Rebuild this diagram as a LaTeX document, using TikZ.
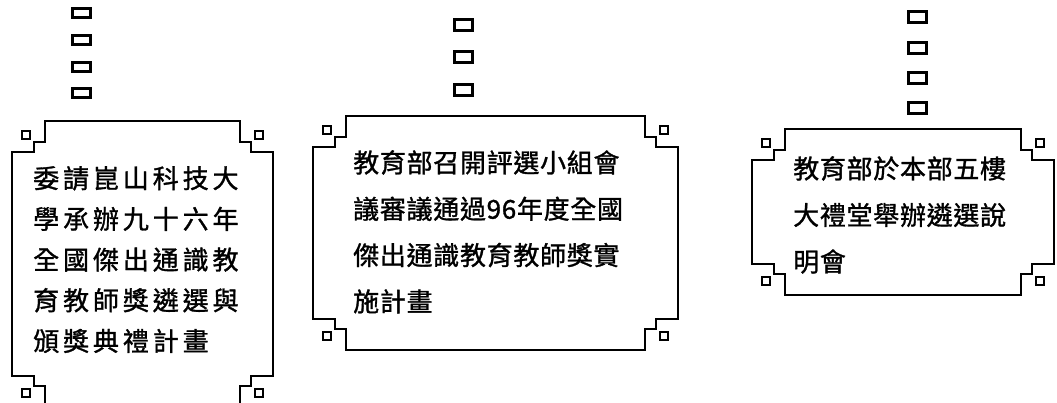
\documentclass[tikz,border=0pt]{standalone}
\usepackage{fontspec}
\newfontfamily\cjkwide[LetterSpace=15, FakeBold=1.2]{Noto Sans CJK TC}
\newfontfamily\cjk[LetterSpace=2.7, FakeBold=1.2]{Noto Sans CJK TC}
\tikzset{
	frame/.style={line width=2.5pt, line join=miter},
	knob/.style={line width=2.5pt},
	link/.style={draw, line width=3pt, inner sep=0pt, minimum width=18pt, minimum height=9pt},
	notice/.style={anchor=north west, align=left, inner sep=0pt}
}
% #1 left, #2 top, #3 right, #4 bottom
\newcommand{\plaque}[4]{%
	\draw[frame] ({#1+33},#2) -- ({#3-33},#2) -- ({#3-33},{#2+21}) -- ({#3-22},{#2+21})
		-- ({#3-22},{#2+31}) -- (#3,{#2+31}) -- (#3,{#4-31}) -- ({#3-22},{#4-31})
		-- ({#3-22},{#4-21}) -- ({#3-33},{#4-21}) -- ({#3-33},#4) -- ({#1+33},#4)
		-- ({#1+33},{#4-21}) -- ({#1+22},{#4-21}) -- ({#1+22},{#4-31}) -- (#1,{#4-31})
		-- (#1,{#2+31}) -- ({#1+22},{#2+31}) -- ({#1+22},{#2+21}) -- ({#1+33},{#2+21}) -- cycle;
	\draw[knob] ({#1+10},{#2+10}) rectangle +(8,8);
	\draw[knob] ({#3-18},{#2+10}) rectangle +(8,8);
	\draw[knob] ({#1+10},{#4-18}) rectangle +(8,8);
	\draw[knob] ({#3-18},{#4-18}) rectangle +(8,8);
}
\begin{document}
\begin{tikzpicture}[x=1pt,y=-1pt]
	\useasboundingbox (0,0) rectangle (1057,403);
	\clip (0,0) rectangle (1057,403);
	% left plaque
	\node (a1) [link] at (81,13) {};
	\node (a2) [link] at (81,40) {};
	\node (a3) [link] at (81,67) {};
	\node (a4) [link] at (81,93) {};
	\plaque{12}{121}{273}{407}
	\node (plan) [notice, font=\cjkwide\fontsize{26}{40.7}\selectfont] at (33,166) {委請崑山科技大\\學承辦九十六年\\全國傑出通識教\\育教師獎遴選與\\頒獎典禮計畫};
	% middle plaque
	\node (b1) [link, minimum height=11pt] at (463,25) {};
	\node (b2) [link, minimum height=11pt] at (463,57) {};
	\node (b3) [link, minimum height=11pt] at (463,90) {};
	\plaque{313}{116}{678}{350}
	\node (review) [notice, font=\cjk\fontsize{26}{46.3}\selectfont] at (353,150) {教育部召開評選小組會\\議審議通過96年度全國\\傑出通識教育教師獎實\\施計畫};
	% right plaque
	\node (c1) [link, minimum height=11pt] at (917,17) {};
	\node (c2) [link, minimum height=11pt] at (917,48) {};
	\node (c3) [link, minimum height=11pt] at (917,78) {};
	\node (c4) [link, minimum height=11pt] at (917,108) {};
	\plaque{752}{129}{1054}{295}
	\node (meeting) [notice, font=\cjk\fontsize{26}{46.5}\selectfont] at (793,156) {教育部於本部五樓\\大禮堂舉辦遴選說\\明會};
\end{tikzpicture}
\end{document}
